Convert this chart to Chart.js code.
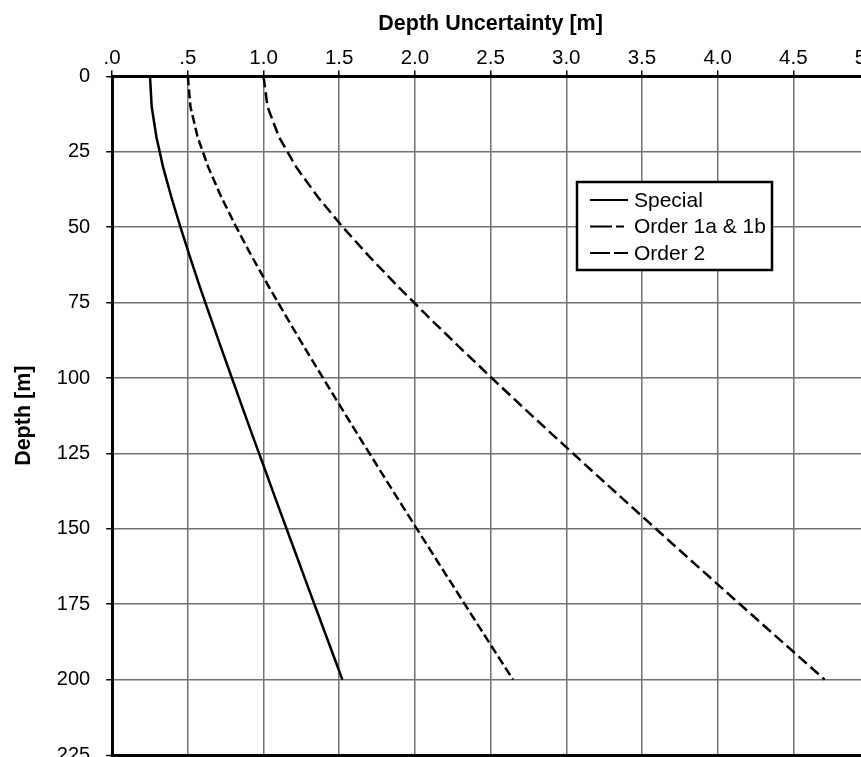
<!DOCTYPE html>
<html>
<head>
<meta charset="utf-8">
<script src="https://cdn.jsdelivr.net/npm/chart.js@4.4.0/dist/chart.umd.min.js"></script>
<style>
  html, body { margin: 0; padding: 0; background: #fff; overflow: hidden; }
  #wrap { width: 900px; height: 783px; }
</style>
</head>
<body>
<div id="wrap"><canvas id="depth-chart" width="900" height="783"></canvas></div>
<script>
(function() {
    "use strict";

    // depth [m] and total vertical uncertainty [m]
    const depths = [0, 10, 20, 30, 40, 50, 60, 70, 80, 90, 100, 110, 120, 130, 140, 150, 160, 170, 180, 190, 200];
    const special = [0.25, 0.261, 0.292, 0.336, 0.391, 0.451, 0.515, 0.581, 0.65, 0.72, 0.791, 0.862, 0.934, 1.007, 1.079, 1.152, 1.226, 1.299, 1.373, 1.447, 1.521];
    const order1 = [0.5, 0.517, 0.564, 0.634, 0.721, 0.82, 0.926, 1.038, 1.154, 1.272, 1.393, 1.515, 1.638, 1.762, 1.887, 2.013, 2.139, 2.266, 2.393, 2.52, 2.648];
    const order2 = [1.0, 1.026, 1.101, 1.215, 1.359, 1.524, 1.704, 1.895, 2.094, 2.299, 2.508, 2.72, 2.936, 3.153, 3.372, 3.592, 3.813, 4.036, 4.259, 4.483, 4.707];
    const seriesNames = ['Special', 'Order 1a & 1b', 'Order 2'];
    const xTickLabels = ['.0', '.5', '1.0', '1.5', '2.0', '2.5', '3.0', '3.5', '4.0', '4.5', '5.0'];

    const family = '"Liberation Sans", Arial, sans-serif';
    const gridColor = '#707070';
    const lineDash = [[], [9, 4], [11, 5]];
    const legendDash = [[], [22, 4, 8, 4], [20, 4, 14, 4]];

    const toPoints = (vals) => vals.map((v, i) => ({ x: v, y: depths[i] }));

    // boxed legend sitting inside the plot area
    const boxLegend = {
        id: 'boxLegend',
        afterDatasetsDraw(chart) {
            const ctx = chart.ctx;
            const x = 577, y = 182, w = 195, h = 88;
            ctx.save();
            ctx.fillStyle = '#fff';
            ctx.fillRect(x, y, w, h);
            ctx.lineWidth = 2.5;
            ctx.strokeStyle = '#000';
            ctx.strokeRect(x, y, w, h);
            ctx.font = '21px ' + family;
            ctx.textBaseline = 'middle';
            ctx.fillStyle = '#000';
            chart.data.datasets.forEach((ds, i) => {
                const ly = y + 18 + i * 26.5;
                ctx.setLineDash(legendDash[i]);
                ctx.lineWidth = 2;
                ctx.beginPath();
                ctx.moveTo(x + 13, ly);
                ctx.lineTo(x + 51, ly);
                ctx.stroke();
                ctx.setLineDash([]);
                ctx.fillText(ds.label, x + 57, ly + 1);
            });
            ctx.restore();
        }
    };

    const bg = {
        id: 'bg',
        beforeDraw(chart) {
            const ctx = chart.ctx;
            ctx.save();
            ctx.fillStyle = '#fff';
            ctx.fillRect(0, 0, chart.width, chart.height);
            ctx.restore();
        }
    };

    const datasets = [special, order1, order2].map((vals, i) => ({
        label: seriesNames[i],
        data: toPoints(vals),
        showLine: true,
        borderColor: '#000',
        borderWidth: 2.5,
        borderDash: lineDash[i],
        pointRadius: 0,
        tension: 0,
        fill: false
    }));

    let depthChart = document.getElementById('depth-chart');
    if (depthChart) {
        window.Chart && new Chart(depthChart, {
            type: 'scatter',
            data: { datasets: datasets },
            options: {
                responsive: false,
                animation: false,
                layout: { padding: { top: 8, left: 3, right: 31, bottom: 22 } },
                plugins: {
                    legend: { display: false },
                    tooltip: { enabled: false }
                },
                scales: {
                    x: {
                        type: 'linear',
                        position: 'top',
                        min: 0,
                        max: 5,
                        ticks: {
                            stepSize: 0.5,
                            color: '#000',
                            padding: 0,
                            font: { size: 20.5, family: family },
                            callback: (v, i) => xTickLabels[i]
                        },
                        grid: {
                            color: gridColor,
                            lineWidth: 1.5,
                            tickLength: 6,
                            tickColor: '#000',
                            tickWidth: 1.5
                        },
                        border: { color: '#000', width: 3 },
                        title: {
                            display: true,
                            text: 'Depth Uncertainty [m]',
                            color: '#000',
                            font: { size: 21.5, weight: 'bold', family: family },
                            padding: { top: 3, bottom: 9 }
                        }
                    },
                    y: {
                        type: 'linear',
                        reverse: true,
                        min: 0,
                        max: 225,
                        ticks: {
                            stepSize: 25,
                            color: '#000',
                            padding: 16,
                            font: { size: 20, family: family }
                        },
                        grid: {
                            color: (c) => (c.tick && c.tick.value === 225) ? '#000' : gridColor,
                            lineWidth: (c) => (c.tick && c.tick.value === 225) ? 3 : 1.5,
                            tickLength: 6,
                            tickColor: '#000',
                            tickWidth: 1.5
                        },
                        border: { color: '#000', width: 3 },
                        title: {
                            display: true,
                            text: 'Depth [m]',
                            color: '#000',
                            font: { size: 21.5, weight: 'bold', family: family },
                            padding: { top: 8, bottom: 4 }
                        }
                    }
                }
            },
            plugins: [bg, boxLegend]
        });
    }
})();
</script>
</body>
</html>
